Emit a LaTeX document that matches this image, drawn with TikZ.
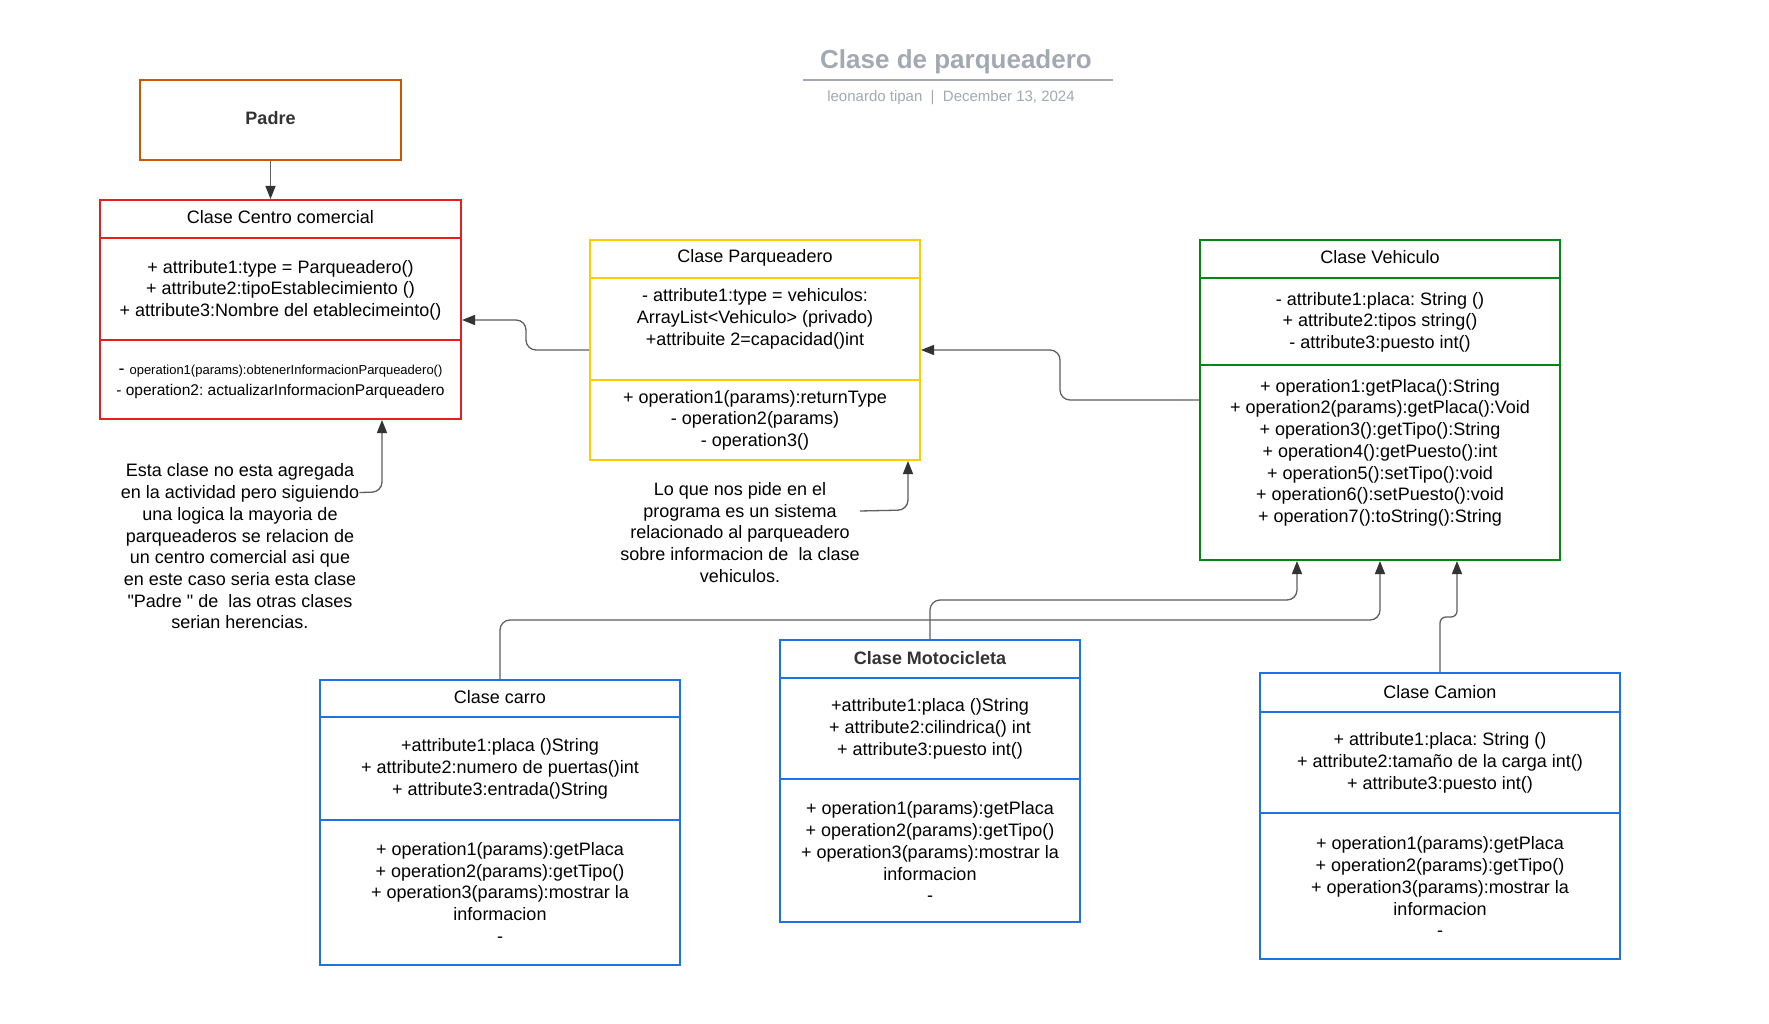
\documentclass[tikz,border=0pt]{standalone}
\usepackage{fontspec}
\setmainfont{Liberation Sans}
\usetikzlibrary{arrows.meta}
\frenchspacing
\newcommand\straightqq{\XeTeXglyph\XeTeXcharglyph"22\relax}
\definecolor{cpadre}{RGB}{204,85,0}
\definecolor{cred}{RGB}{230,30,30}
\definecolor{cyel}{RGB}{255,204,0}
\definecolor{cgreen}{RGB}{0,136,20}
\definecolor{cblue}{RGB}{28,115,232}
\definecolor{ctitle}{RGB}{163,168,179}
\definecolor{cline}{RGB}{95,95,95}
\definecolor{ctip}{RGB}{51,51,51}
\begin{document}
\begin{tikzpicture}[x=1pt,y=-1pt,
  umlbox/.style={draw, line width=2pt, rectangle, inner sep=0pt, fill=white},
  txt/.style={align=center, inner sep=0pt, font=\fontsize{18}{21.7}\selectfont, text=black},
  hdr/.style={txt, font=\bfseries\fontsize{18}{21.7}\selectfont, text=ctip},
  conn/.style={draw=cline, line width=1.3pt, rounded corners=10pt, -{Triangle[length=13pt,width=10pt,color=ctip]}},
]
\useasboundingbox (0,0) rectangle (1769,1024);
\fill[white] (0,0) rectangle (1769,1024);

% title
\node[font=\bfseries\fontsize{26}{30}\selectfont, text=ctitle, inner sep=0pt] (title) at (956,61.5) {Clase de parqueadero};
\draw[ctitle, line width=2pt] (803,80) -- (1113,80);
\node[font=\fontsize{15}{18}\selectfont, text=ctitle, inner sep=0pt] (subtitle) at (951,97.5) {leonardo tipan~~|~~December 13, 2024};

% boxes
\node[umlbox, draw=cpadre, minimum width=261pt, minimum height=80pt] (padre) at (270.5,120) {};
\node[umlbox, draw=cred, minimum width=361pt, minimum height=219pt] (centro) at (280.5,309.5) {};
\node[umlbox, draw=cyel, minimum width=330pt, minimum height=220pt] (parq) at (755,350) {};
\node[umlbox, draw=cgreen, minimum width=360pt, minimum height=320pt] (veh) at (1380,400) {};
\node[umlbox, draw=cblue, minimum width=360pt, minimum height=285pt] (carro) at (500,822.5) {};
\node[umlbox, draw=cblue, minimum width=300pt, minimum height=282pt] (moto) at (930,781) {};
\node[umlbox, draw=cblue, minimum width=360pt, minimum height=286pt] (camion) at (1440,816) {};

% dividers
\draw[cred, line width=2pt] (centro.west |- 0,238) -- (centro.east |- 0,238);
\draw[cred, line width=2pt] (centro.west |- 0,340) -- (centro.east |- 0,340);
\draw[cyel, line width=2pt] (parq.west |- 0,278) -- (parq.east |- 0,278);
\draw[cyel, line width=2pt] (parq.west |- 0,380) -- (parq.east |- 0,380);
\draw[cgreen, line width=2pt] (veh.west |- 0,278) -- (veh.east |- 0,278);
\draw[cgreen, line width=2pt] (veh.west |- 0,365) -- (veh.east |- 0,365);
\draw[cblue, line width=2pt] (carro.west |- 0,717) -- (carro.east |- 0,717);
\draw[cblue, line width=2pt] (carro.west |- 0,820) -- (carro.east |- 0,820);
\draw[cblue, line width=2pt] (moto.west |- 0,678) -- (moto.east |- 0,678);
\draw[cblue, line width=2pt] (moto.west |- 0,779) -- (moto.east |- 0,779);
\draw[cblue, line width=2pt] (camion.west |- 0,712) -- (camion.east |- 0,712);
\draw[cblue, line width=2pt] (camion.west |- 0,813) -- (camion.east |- 0,813);

% texts
\node[hdr] (padre-t) at (270.5,118) {Padre};

\node[txt] (centro-h) at (280.5,217) {Clase Centro comercial};
\node[txt] (centro-a) at (280.5,290.3) {+ attribute1:type = Parqueadero()\\+ attribute2:tipoEstablecimiento ()\\+ attribute3:Nombre del etablecimeinto()};
\node[txt] (centro-o1) at (280.5,371) {- {\fontsize{13}{15}\selectfont operation1(params):obtenerInformacionParqueadero()}};
\node[txt, font=\fontsize{15.5}{18}\selectfont] (centro-o2) at (280.5,391) {- operation2: actualizarInformacionParqueadero};

\node[txt] (parq-h) at (755,258) {Clase Parqueadero};
\node[txt] (parq-a) at (755,319) {- attribute1:type = vehiculos:\\ArrayList<Vehiculo> (privado)\\+attribuite 2=capacidad()int};
\node[txt] (parq-o) at (755,420.3) {+ operation1(params):returnType\\- operation2(params)\\- operation3()};

\node[txt] (veh-h) at (1380,257.5) {Clase Vehiculo};
\node[txt] (veh-a) at (1380,322.3) {- attribute1:placa: String ()\\+ attribute2:tipos string()\\- attribute3:puesto int()};
\node[txt] (veh-o) at (1380,452.7) {+ operation1:getPlaca():String\\+ operation2(params):getPlaca():Void\\+ operation3():getTipo():String\\+ operation4():getPuesto():int\\+ operation5():setTipo():void\\+ operation6():setPuesto():void\\+ operation7():toString():String};

\node[txt] (carro-h) at (500,697.5) {Clase carro};
\node[txt] (carro-a) at (500,769) {+attribute1:placa ()String\\+ attribute2:numero de puertas()int\\+ attribute3:entrada()String};
\node[txt] (carro-o) at (500,892.3) {+ operation1(params):getPlaca\\+ operation2(params):getTipo()\\+ operation3(params):mostrar la\\informacion\\-};

\node[hdr] (moto-h) at (930,658) {Clase Motocicleta};
\node[txt] (moto-a) at (930,729) {+attribute1:placa ()String\\+ attribute2:cilindrica() int\\+ attribute3:puesto int()};
\node[txt] (moto-o) at (930,851.8) {+ operation1(params):getPlaca\\+ operation2(params):getTipo()\\+ operation3(params):mostrar la\\informacion\\-};

\node[txt] (camion-h) at (1440,692) {Clase Camion};
\node[txt] (camion-a) at (1440,763) {+ attribute1:placa: String ()\\+ attribute2:tamaño de la carga int()\\+ attribute3:puesto int()};
\node[txt] (camion-o) at (1440,886.8) {+ operation1(params):getPlaca\\+ operation2(params):getTipo()\\+ operation3(params):mostrar la\\informacion\\-};

\node[txt] (note1) at (240,546.5) {Esta clase no esta agregada\\en la actividad pero siguiendo\\una logica la mayoria de\\parqueaderos se relacion de\\un centro comercial asi que\\en este caso seria esta clase\\\straightqq Padre \straightqq{} de~~las otras clases\\serian herencias.};
\node[txt] (note2) at (740,532.5) {Lo que nos pide en el\\programa es un sistema\\relacionado al parqueadero\\sobre informacion de~~la clase\\vehiculos.};

% connectors
\draw[conn] (padre.south) -- (padre.south |- centro.north);
\draw[conn] (parq.west) -- (526,350) -- (526,320) -- ([yshift=-10.5pt]centro.east);
\draw[conn] (veh.west) -- (1060,400) -- (1060,350) -- (parq.east);
\draw[conn] ([yshift=54pt]note1.east) -- (382,492) -- ([xshift=101.5pt]centro.south);
\draw[conn] ([yshift=21.5pt]note2.east) -- (908,510) -- ([xshift=153pt]parq.south);
\draw[conn] (carro.north) -- (500,620) -- (1380,620) -- (veh.south);
\draw[conn] (moto.north) -- (930,600) -- (1297,600) -- ([xshift=-83pt]veh.south);
\draw[conn, rounded corners=6pt] (camion.north) -- (1440,617) -- (1457,617) -- ([xshift=77pt]veh.south);
\end{tikzpicture}
\end{document}
